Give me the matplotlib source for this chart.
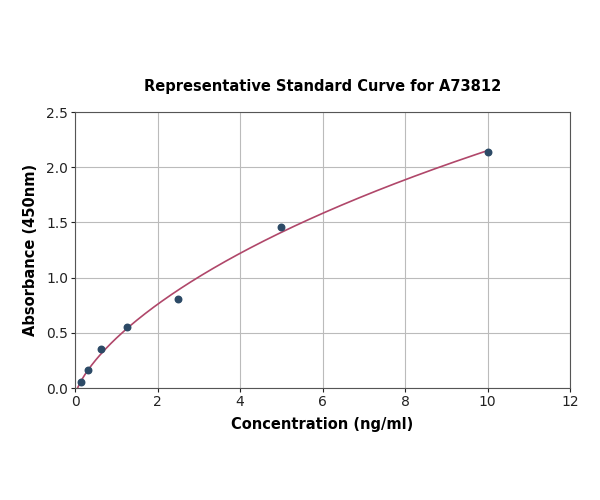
import numpy as np
import matplotlib
matplotlib.use("Agg")
import matplotlib.pyplot as plt

plt.rcParams['font.family'] = ['DejaVu Sans']

conc = [0.156, 0.3125, 0.625, 1.25, 2.5, 5.0, 10.0]
absorb = [0.05, 0.16, 0.35, 0.55, 0.81, 1.46, 2.14]
xticks = [0, 2, 4, 6, 8, 10, 12]
yticks = [0.0, 0.5, 1.0, 1.5, 2.0, 2.5]

x = np.array(conc)
y = np.array(absorb)

def model(p, xx):
    a, b, c, d = p
    return d + (a - d) / (1.0 + (np.maximum(xx, 1e-9) / c) ** b)

def jac(p, xx):
    eps = 1e-6
    J = np.zeros((len(xx), len(p)))
    for i in range(len(p)):
        dp = np.array(p, float); dp[i] += eps
        J[:, i] = (model(dp, xx) - model(p, xx)) / eps
    return J

p = np.array([0.0, 1.0, 10.0, 5.0])
lam = 1e-2
for _ in range(2000):
    r = y - model(p, x)
    J = jac(p, x)
    A = J.T @ J
    g = J.T @ r
    step = np.linalg.solve(A + lam * np.diag(np.diag(A) + 1e-12), g)
    pn = p + step
    if pn[2] > 0 and np.sum((y - model(pn, x)) ** 2) < np.sum(r ** 2):
        p = pn; lam *= 0.5
    else:
        lam *= 3

xs = np.linspace(0, 10, 300)
ys = model(p, xs)

fig = plt.figure(figsize=(6, 5), dpi=100)
ax = fig.add_axes([0.125, 0.224, 0.825, 0.552])
ax.plot(xs, ys, color="#b0476a", lw=1.2, zorder=2)
ax.scatter(x, y, color="#2c4a66", s=22, zorder=3)
ax.set_xlim(0, 12)
ax.set_ylim(0, 2.5)
ax.set_xticks(xticks)
ax.set_yticks(yticks)
ax.set_yticklabels([f"{v:.1f}" for v in yticks])
ax.grid(True, color="#bbbbbb", lw=0.8)
ax.set_axisbelow(True)
for s in ax.spines.values():
    s.set_color("#555555")
ax.tick_params(labelsize=10, colors="#222222", length=3, pad=2)
ax.set_xlabel("Concentration (ng/ml)", fontsize=10.5, fontweight="bold", labelpad=6)
ax.set_ylabel("Absorbance (450nm)", fontsize=10.5, fontweight="bold", labelpad=6)
ax.set_title("Representative Standard Curve for A73812", fontsize=10.5, fontweight="bold", pad=15)
fig.savefig("out.png", dpi=100)
